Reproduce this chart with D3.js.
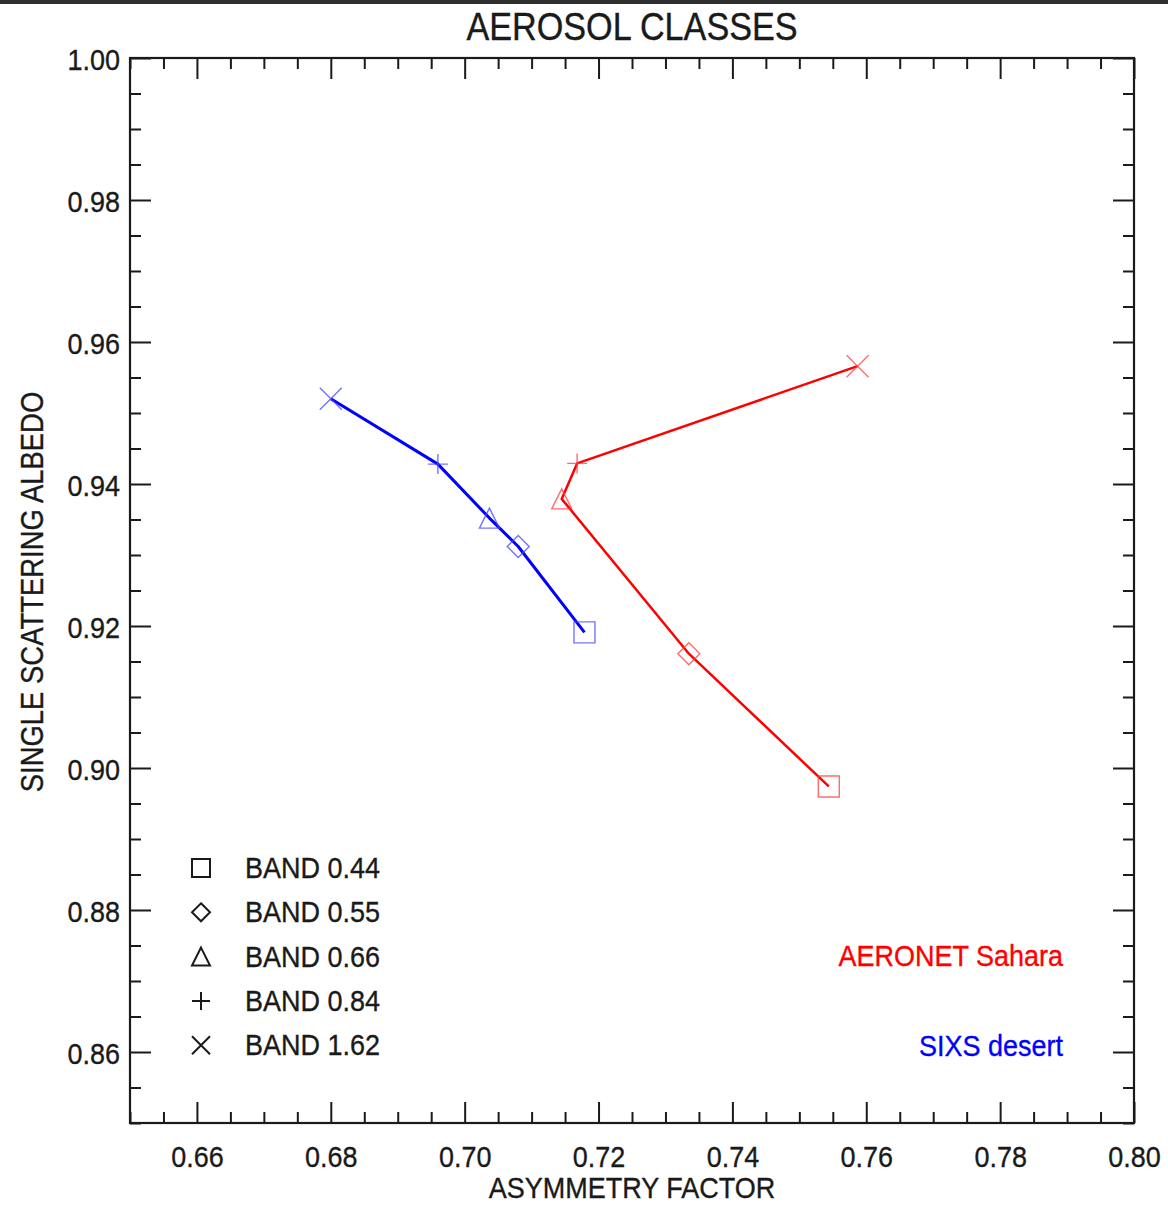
<!DOCTYPE html>
<html>
<head>
<meta charset="utf-8">
<script src="https://cdn.jsdelivr.net/npm/d3@7"></script>
<style>
  body { margin: 0; background: #fff; }
  text { font-family: "Liberation Sans", Arial, Helvetica, sans-serif; }
</style>
</head>
<body>
<svg id="chart" width="1168" height="1205"></svg>
<script>
// Spectral bands (legend order) and the symbol used for each
const bands = ["BAND 0.44", "BAND 0.55", "BAND 0.66", "BAND 0.84", "BAND 1.62"];
const bandSymbols = ["square", "diamond", "triangle", "plus", "cross"];

// AERONET Sahara: asymmetry factor g and single scattering albedo per band
const saharaG = [0.7544, 0.7335, 0.7145, 0.7168, 0.7587];
const saharaW = [0.8974, 0.9161, 0.9379, 0.9429, 0.9566];

// 6S (SIXS) desert model
const desertG = [0.7179, 0.7080, 0.7037, 0.6960, 0.6800];
const desertW = [0.9191, 0.9312, 0.9352, 0.9428, 0.9520];

// Axis tick labels
const xTickValues = [0.66, 0.68, 0.70, 0.72, 0.74, 0.76, 0.78, 0.80];
const yTickValues = [0.86, 0.88, 0.90, 0.92, 0.94, 0.96, 0.98, 1.00];

const seriesNames = ["AERONET Sahara", "SIXS desert"];

// ---------------------------------------------------------------
const svg = d3.select("#chart");
const W = 1168, H = 1205;
const plot = { left: 130, right: 1134, top: 58, bottom: 1123 };
const FONT = 30, SQUEEZE = 0.9, INK = "#1a1a1a";

const x = d3.scaleLinear().domain([0.65, 0.80]).range([plot.left, plot.right]);
const y = d3.scaleLinear().domain([0.85, 1.00]).range([plot.bottom, plot.top]);

svg.append("rect").attr("width", W).attr("height", H).attr("fill", "#fff");
svg.append("rect").attr("width", W).attr("height", 4).attr("fill", "#2f2f2f");

// Symbol shapes, r = half size
function symbolPath(kind, r) {
  switch (kind) {
    case "square":   return `M${-r},${-r}H${r}V${r}H${-r}Z`;
    case "diamond":  return `M0,${-r}L${r},0L0,${r}L${-r},0Z`;
    case "triangle": return `M0,${-r}L${r},${r}H${-r}Z`;
    case "plus":     return `M${-r},0H${r}M0,${-r}V${r}`;
    case "cross":    return `M${-r},${-r}L${r},${r}M${r},${-r}L${-r},${r}`;
  }
}
const markerSize = { square: 10.5, diamond: 11, triangle: 10, plus: 10, cross: 11 };

// Condensed text helper
function label(parent, tx, ty, str, opts = {}) {
  const g = parent.append("g").attr("transform", `translate(${tx},${ty})${opts.rotate ? " rotate(" + opts.rotate + ")" : ""}`);
  const color = opts.color || INK;
  return g.append("text")
    .attr("transform", `scale(${SQUEEZE},1)`)
    .attr("text-anchor", opts.anchor || "start")
    .attr("font-size", opts.size || FONT)
    .attr("fill", color)
    .attr("stroke", color)
    .attr("stroke-width", 0.35)
    .text(str);
}

// ---- axes: major and minor ticks pointing inward on all four sides
const xMinor = x.ticks(30).filter(v => !xTickValues.some(t => Math.abs(t - v) < 1e-9));
const yMinor = y.ticks(30).filter(v => !yTickValues.some(t => Math.abs(t - v) < 1e-9));
const MAJ = 21, MIN = 11;

function styleAxis(g) {
  g.select(".domain").remove();
  g.selectAll("line").attr("stroke", INK).attr("stroke-width", 2);
}

// bottom
svg.append("g").attr("transform", `translate(0,${plot.bottom})`)
  .call(d3.axisBottom(x).tickValues(xMinor).tickSize(-MIN).tickFormat(""))
  .call(styleAxis);
const xAxisG = svg.append("g").attr("transform", `translate(0,${plot.bottom})`)
  .call(d3.axisBottom(x).tickValues(xTickValues).tickSize(-MAJ).tickPadding(23).tickFormat(d3.format(".2f")))
  .call(styleAxis);
// top
svg.append("g").attr("transform", `translate(0,${plot.top})`)
  .call(d3.axisTop(x).tickValues(xMinor).tickSize(-MIN).tickFormat(""))
  .call(styleAxis);
svg.append("g").attr("transform", `translate(0,${plot.top})`)
  .call(d3.axisTop(x).tickValues(xTickValues).tickSize(-MAJ).tickFormat(""))
  .call(styleAxis);
// left
svg.append("g").attr("transform", `translate(${plot.left},0)`)
  .call(d3.axisLeft(y).tickValues(yMinor).tickSize(-MIN).tickFormat(""))
  .call(styleAxis);
const yAxisG = svg.append("g").attr("transform", `translate(${plot.left},0)`)
  .call(d3.axisLeft(y).tickValues(yTickValues).tickSize(-MAJ).tickPadding(11).tickFormat(d3.format(".2f")))
  .call(styleAxis);
// right
svg.append("g").attr("transform", `translate(${plot.right},0)`)
  .call(d3.axisRight(y).tickValues(yMinor).tickSize(-MIN).tickFormat(""))
  .call(styleAxis);
svg.append("g").attr("transform", `translate(${plot.right},0)`)
  .call(d3.axisRight(y).tickValues(yTickValues).tickSize(-MAJ).tickFormat(""))
  .call(styleAxis);

[xAxisG, yAxisG].forEach(g => g.selectAll("text")
  .attr("font-size", FONT)
  .attr("font-family", '"Liberation Sans", Arial, sans-serif')
  .attr("fill", INK)
  .attr("stroke", INK)
  .attr("stroke-width", 0.35)
  .attr("transform", `scale(${SQUEEZE},1)`));
yAxisG.selectAll("text").attr("dy", "0.37em");

// frame
svg.append("rect")
  .attr("x", plot.left).attr("y", plot.top)
  .attr("width", plot.right - plot.left).attr("height", plot.bottom - plot.top)
  .attr("fill", "none").attr("stroke", INK).attr("stroke-width", 2.2);

// ---- titles
label(svg, (plot.left + plot.right) / 2, 40, "AEROSOL CLASSES", { anchor: "middle", size: 38 });
label(svg, (plot.left + plot.right) / 2, 1198, "ASYMMETRY FACTOR", { anchor: "middle" });
label(svg, 43, 592, "SINGLE SCATTERING ALBEDO", { anchor: "middle", rotate: -90, size: 30.5 });

// ---- series
const series = [
  { name: seriesNames[0], g: saharaG, w: saharaW, color: "#ff0000", lw: 2.5, mark: "rgba(255,60,60,0.75)" },
  { name: seriesNames[1], g: desertG, w: desertW, color: "#0000ff", lw: 3,   mark: "rgba(70,70,255,0.75)" }
];

const line = d3.line().x(d => x(d.g)).y(d => y(d.w));

series.forEach(s => {
  const pts = s.g.map((g, i) => ({ g, w: s.w[i], kind: bandSymbols[i] }));
  svg.append("path")
    .attr("d", line(pts))
    .attr("fill", "none")
    .attr("stroke", s.color)
    .attr("stroke-width", s.lw)
    .attr("stroke-linejoin", "round");
  svg.append("g").selectAll("path")
    .data(pts)
    .join("path")
    .attr("transform", d => `translate(${x(d.g)},${y(d.w)})`)
    .attr("d", d => symbolPath(d.kind, markerSize[d.kind]))
    .attr("fill", "none")
    .attr("stroke", s.mark)
    .attr("stroke-width", 1.4);
});

// ---- series labels
label(svg, 1063, 966, seriesNames[0], { anchor: "end", color: "#ff0000" });
label(svg, 1063, 1056, seriesNames[1], { anchor: "end", color: "#0000ff" });

// ---- band legend
const legend = svg.append("g");
bands.forEach((b, i) => {
  const base = 878 + i * 44.3;
  legend.append("path")
    .attr("transform", `translate(201,${base - 10})`)
    .attr("d", symbolPath(bandSymbols[i], 9))
    .attr("fill", "none")
    .attr("stroke", INK)
    .attr("stroke-width", 2);
  label(legend, 245, base, b);
});
</script>
</body>
</html>
